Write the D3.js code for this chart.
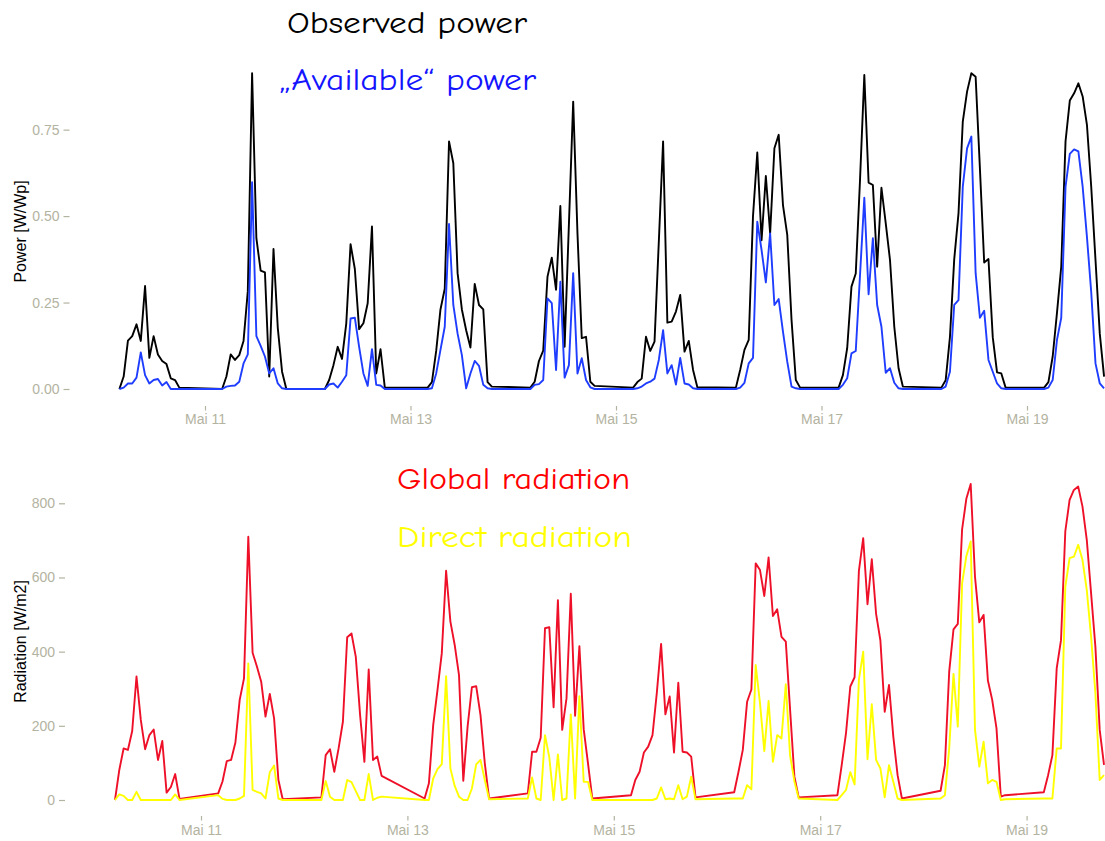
<!DOCTYPE html>
<html lang="de">
<head>
<meta charset="utf-8">
<script src="https://cdnjs.cloudflare.com/ajax/libs/d3/7.8.5/d3.min.js"></script>
<style>
    body { margin: 0; background: #ffffff; }
    .tick text { font-family: "Liberation Sans", Arial, sans-serif; font-size: 14px; fill: #b3b3a1; }
    .tick line { stroke: #b3b3a1; stroke-width: 1.2; }
    .title { font-family: "Comic Sans MS", "Comic Neue", "DejaVu Sans", sans-serif; font-size: 31px; }
    .ylab { font-family: "Liberation Sans", Arial, sans-serif; font-size: 16px; fill: #000; }
    .line { fill: none; stroke-width: 1.9; stroke-linejoin: round; }
</style>
</head>
<body>
<div id="chart"></div>
<script>
// days in May, hourly values from 04 UTC onwards
var days = [10, 11, 12, 13, 14, 15, 16, 17, 18, 19];
var firstHour = 4;

// observed power [W/Wp]
var observed = [
    [0, 0.036, 0.14, 0.153, 0.187, 0.139, 0.298, 0.09, 0.153, 0.10, 0.081, 0.072, 0.031, 0.026, 0.004],
    [0, 0.036, 0.10, 0.084, 0.098, 0.139, 0.283, 0.913, 0.436, 0.342, 0.337, 0.036, 0.405, 0.177, 0.05, 0],
    [0, 0.026, 0.069, 0.122, 0.087, 0.19, 0.419, 0.347, 0.173, 0.19, 0.248, 0.47, 0.045, 0.115, 0.004, 0.004],
    [0.004, 0.02, 0.11, 0.23, 0.29, 0.716, 0.653, 0.335, 0.23, 0.17, 0.12, 0.304, 0.243, 0.23, 0.02, 0.007],
    [0.004, 0.021, 0.081, 0.111, 0.325, 0.38, 0.287, 0.529, 0.122, 0.476, 0.831, 0.45, 0.147, 0.151, 0.021, 0.009],
    [0.004, 0.02, 0.03, 0.151, 0.11, 0.137, 0.426, 0.716, 0.192, 0.195, 0.224, 0.272, 0.108, 0.139, 0.055, 0.005],
    [0.004, 0.055, 0.113, 0.142, 0.5, 0.684, 0.43, 0.616, 0.45, 0.696, 0.735, 0.532, 0.446, 0.2, 0.026, 0.004],
    [0.004, 0.04, 0.118, 0.296, 0.334, 0.605, 0.908, 0.597, 0.59, 0.354, 0.582, 0.48, 0.373, 0.18, 0.06, 0.007],
    [0.004, 0.025, 0.15, 0.375, 0.508, 0.773, 0.86, 0.913, 0.903, 0.638, 0.366, 0.376, 0.15, 0.048, 0.045, 0.004],
    [0.004, 0.02, 0.094, 0.22, 0.354, 0.716, 0.834, 0.855, 0.884, 0.846, 0.764, 0.585, 0.373, 0.16, 0.036]
];

// "available" power [W/Wp]
var available = [
    [0, 0.004, 0.016, 0.016, 0.033, 0.106, 0.04, 0.016, 0.026, 0.029, 0.01, 0.02, 0, 0, 0],
    [0, 0.007, 0.009, 0.01, 0.021, 0.074, 0.10, 0.598, 0.153, 0.125, 0.094, 0.045, 0.06, 0.016, 0.002, 0],
    [0, 0.013, 0.016, 0.004, 0.021, 0.04, 0.204, 0.206, 0.122, 0.045, 0.009, 0.115, 0.012, 0.01, 0, 0],
    [0, 0.002, 0.045, 0.113, 0.18, 0.477, 0.243, 0.16, 0.098, 0.002, 0.045, 0.081, 0.067, 0.012, 0.002, 0],
    [0, 0.012, 0.014, 0.026, 0.262, 0.248, 0.055, 0.31, 0.033, 0.069, 0.335, 0.045, 0.089, 0.026, 0.005, 0],
    [0, 0.002, 0.007, 0.016, 0.021, 0.03, 0.084, 0.17, 0.045, 0.069, 0.013, 0.09, 0.016, 0.013, 0.002, 0],
    [0, 0.004, 0.018, 0.074, 0.09, 0.484, 0.402, 0.308, 0.45, 0.243, 0.26, 0.166, 0.079, 0.007, 0.002, 0],
    [0, 0.012, 0.031, 0.103, 0.11, 0.33, 0.553, 0.274, 0.436, 0.243, 0.18, 0.047, 0.06, 0.018, 0.002, 0],
    [0, 0.007, 0.05, 0.243, 0.257, 0.585, 0.696, 0.73, 0.335, 0.206, 0.226, 0.084, 0.05, 0.016, 0.002, 0],
    [0, 0.004, 0.026, 0.142, 0.206, 0.585, 0.68, 0.693, 0.687, 0.585, 0.44, 0.28, 0.074, 0.016, 0.002]
];

// global radiation [W/m2]
var globalRad = [
    [0, 81, 139, 135, 186, 333, 216, 137, 175, 190, 108, 159, 20, 35, 70, 3],
    [18, 50, 105, 108, 155, 270, 328, 710, 397, 360, 319, 225, 286, 220, 54, 2],
    [7, 121, 137, 76, 139, 211, 439, 449, 386, 229, 103, 352, 108, 117, 65],
    [4, 45, 202, 297, 396, 618, 481, 418, 337, 52, 198, 304, 307, 229, 99, 4],
    [18, 130, 130, 168, 463, 466, 250, 539, 189, 274, 556, 227, 415, 191, 99, 4],
    [13, 54, 76, 128, 144, 175, 288, 421, 231, 279, 128, 316, 130, 128, 117, 7],
    [21, 76, 135, 265, 298, 638, 620, 550, 654, 496, 514, 440, 427, 243, 63, 7],
    [13, 94, 180, 306, 331, 618, 706, 528, 649, 502, 430, 238, 310, 171, 67, 4],
    [25, 94, 346, 460, 475, 730, 813, 852, 602, 479, 499, 322, 270, 193, 9, 13],
    [21, 67, 121, 355, 431, 724, 809, 836, 845, 791, 701, 557, 413, 189, 95]
];

// direct radiation [W/m2]
var directRad = [
    [0, 15, 11, 0, 0, 22, 0, 0, 0, 0, 0, 0, 0, 0, 15, 0],
    [13, 3, 0, 0, 0, 4, 11, 368, 27, 22, 18, 4, 75, 93, 4, 0],
    [0, 51, 9, 0, 0, 0, 54, 48, 24, 0, 0, 70, 0, 6, 9],
    [0, 0, 58, 83, 97, 334, 85, 38, 9, 0, 0, 31, 96, 108, 54, 2],
    [4, 61, 4, 0, 175, 115, 0, 123, 0, 4, 231, 4, 280, 49, 49, 0],
    [0, 0, 0, 0, 0, 0, 4, 34, 2, 4, 2, 40, 2, 9, 63, 2],
    [4, 4, 4, 40, 29, 364, 261, 132, 267, 103, 175, 166, 312, 120, 50, 4],
    [0, 13, 27, 75, 42, 324, 400, 110, 258, 108, 85, 7, 94, 49, 4, 0],
    [4, 13, 139, 340, 198, 584, 658, 697, 189, 90, 157, 45, 54, 49, 0, 2],
    [4, 4, 4, 139, 139, 575, 652, 656, 688, 647, 566, 440, 288, 54, 67]
];

// axis ticks
var tickDays = [11, 13, 15, 17, 19];
var tickLabels = ["Mai 11", "Mai 13", "Mai 15", "Mai 17", "Mai 19"];
var powerTicks = [0, 0.25, 0.5, 0.75];
var radTicks = [0, 200, 400, 600, 800];

var w = 1105, h = 841;

function utc(day, hour) { return new Date(Date.UTC(2013, 4, day, hour)); }

// flatten the per-day arrays into time/value points
function series(values) {
    var pts = [];
    values.forEach(function(dayVals, i) {
        dayVals.forEach(function(v, j) {
            pts.push({ t: utc(days[i], firstHour + j), v: v });
        });
    });
    return pts;
}

var svg = d3.select("#chart")
    .append("svg")
    .attr("width", w)
    .attr("height", h)
    .style("display", "block");

var t0 = utc(10, 0), t1 = utc(20, 0);
var tickDates = tickDays.map(function(d) { return utc(d, 0); });

// ---- top panel: power
var xTop = d3.scaleUtc().domain([t0, t1]).range([102.25, 1129.75]);
var yPow = d3.scaleLinear().domain([0, 0.75]).range([389, 129.65]);

// ---- bottom panel: radiation
var xBot = d3.scaleUtc().domain([t0, t1]).range([97.8, 1129.8]);
var yRad = d3.scaleLinear().domain([0, 800]).range([800, 503.3]);

function xAxis(g, x, y, pad) {
    g.attr("transform", "translate(0," + y + ")")
        .call(d3.axisBottom(x)
            .tickValues(tickDates)
            .tickFormat(function(d, i) { return tickLabels[i]; })
            .tickSize(4.5)
            .tickPadding(pad));
    g.select(".domain").remove();
}

function yAxis(g, y, xpos, vals, fmt) {
    g.attr("transform", "translate(" + xpos + ",0)")
        .call(d3.axisLeft(y)
            .tickValues(vals)
            .tickFormat(fmt)
            .tickSize(6)
            .tickPadding(4));
    g.select(".domain").remove();
}

svg.append("g").call(xAxis, xTop, 406, 3.5);
svg.append("g").call(yAxis, yPow, 69.5, powerTicks, d3.format(".2f"));
svg.append("g").call(xAxis, xBot, 816, 4.5);
svg.append("g").call(yAxis, yRad, 65, radTicks, d3.format("d"));

// y axis titles
svg.append("text")
    .attr("class", "ylab")
    .attr("transform", "translate(26,231.5) rotate(-90)")
    .attr("text-anchor", "middle")
    .text("Power [W/Wp]");
svg.append("text")
    .attr("class", "ylab")
    .attr("transform", "translate(26,641.5) rotate(-90)")
    .attr("text-anchor", "middle")
    .text("Radiation [W/m2]");

// lines
var powLine = d3.line()
    .x(function(d) { return xTop(d.t); })
    .y(function(d) { return yPow(d.v); });
var radLine = d3.line()
    .x(function(d) { return xBot(d.t); })
    .y(function(d) { return yRad(d.v); });

svg.append("path").datum(series(observed))
    .attr("class", "line").attr("stroke", "#000000").attr("d", powLine);
svg.append("path").datum(series(available))
    .attr("class", "line").attr("stroke", "#1f3dff").attr("d", powLine);
svg.append("path").datum(series(globalRad))
    .attr("class", "line").attr("stroke", "#ee1028").attr("d", radLine);
svg.append("path").datum(series(directRad))
    .attr("class", "line").attr("stroke", "#ffff00").attr("d", radLine);

// titles in the plot
var titles = [
    { text: "Observed power", x: 287, y: 33, len: 240, color: "#000000" },
    { text: "\u201EAvailable\u201C power", x: 278, y: 90, len: 258, color: "#1414ff" },
    { text: "Global radiation", x: 397, y: 489, len: 233, color: "#ff0000" },
    { text: "Direct radiation", x: 397, y: 547, len: 235, color: "#ffff00" }
];
svg.append("g").selectAll("text")
    .data(titles)
    .enter()
    .append("text")
    .attr("class", "title")
    .attr("x", function(d) { return d.x; })
    .attr("y", function(d) { return d.y; })
    .attr("textLength", function(d) { return d.len; })
    .attr("lengthAdjust", "spacingAndGlyphs")
    .attr("fill", function(d) { return d.color; })
    .text(function(d) { return d.text; });
</script>
</body>
</html>
